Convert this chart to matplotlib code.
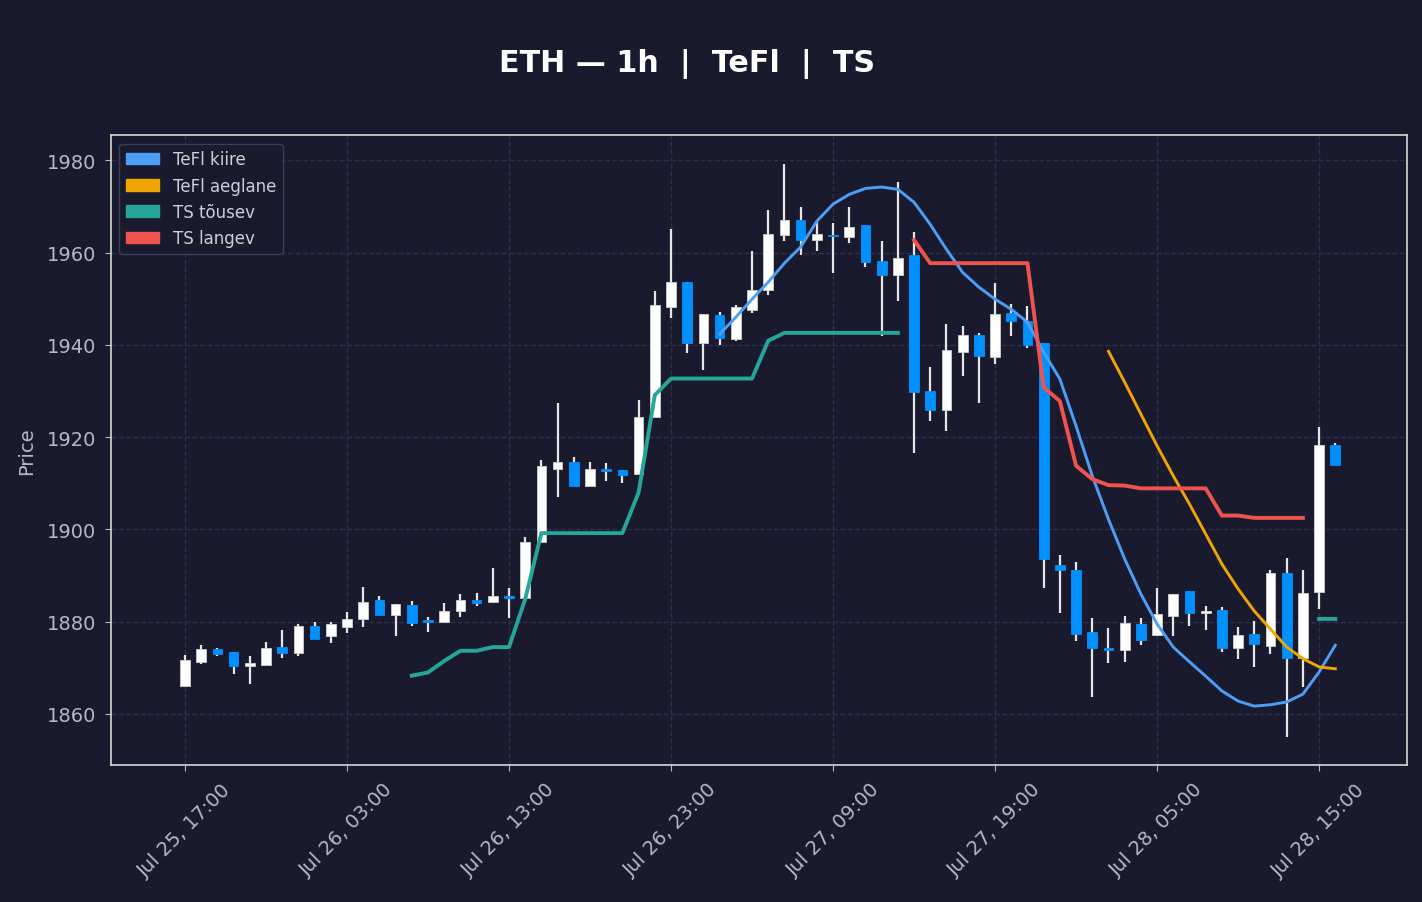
import numpy as np
import pandas as pd
import matplotlib
matplotlib.use("Agg")
import matplotlib.pyplot as plt
import matplotlib.dates as mdates
from matplotlib.patches import Patch

# hourly candles, Jul 25 17:00 -> Jul 28 16:00
times = pd.date_range("2023-07-25 17:00", periods=72, freq="h")

opens = [1866.1, 1871.3, 1874.1, 1873.4, 1870.3, 1870.7, 1874.5, 1873.3, 1879.1, 1876.8,
         1878.9, 1880.6, 1884.6, 1881.5, 1883.6, 1880.3, 1879.9, 1882.4, 1884.6, 1884.2,
         1885.6, 1885.2, 1897.2, 1913.2, 1914.7, 1909.5, 1913.2, 1912.9, 1912.1, 1924.3,
         1948.3, 1953.7, 1940.3, 1946.4, 1941.2, 1947.6, 1951.8, 1963.9, 1967.0, 1962.7,
         1963.9, 1963.4, 1965.9, 1958.1, 1955.2, 1959.4, 1930.1, 1925.8, 1938.5, 1942.1,
         1937.4, 1946.9, 1945.1, 1940.5, 1892.3, 1891.1, 1877.7, 1874.3, 1873.9, 1879.6,
         1877.1, 1881.3, 1886.6, 1881.8, 1882.5, 1874.4, 1877.3, 1874.8, 1890.5, 1872.2,
         1886.5, 1918.3]
highs = [1872.8, 1874.9, 1874.3, 1873.4, 1872.6, 1875.5, 1878.2, 1879.4, 1880.0, 1880.0,
         1882.1, 1887.5, 1885.6, 1883.8, 1884.5, 1881.0, 1884.1, 1886.0, 1886.3, 1891.6,
         1887.3, 1898.3, 1915.0, 1927.4, 1915.7, 1914.6, 1914.4, 1912.9, 1928.0, 1951.6,
         1965.1, 1953.7, 1946.6, 1947.2, 1948.6, 1960.4, 1969.2, 1979.1, 1969.8, 1966.9,
         1966.4, 1969.8, 1965.9, 1962.5, 1975.2, 1964.4, 1935.1, 1944.5, 1944.0, 1942.6,
         1953.4, 1948.8, 1948.4, 1940.5, 1894.4, 1892.9, 1880.8, 1878.6, 1881.2, 1880.8,
         1887.3, 1886.0, 1886.6, 1883.3, 1883.2, 1878.9, 1880.2, 1891.2, 1893.8, 1891.2,
         1922.2, 1918.7]
lows = [1866.0, 1870.9, 1872.6, 1868.6, 1866.5, 1870.7, 1872.1, 1872.6, 1876.3, 1875.4,
        1877.6, 1878.9, 1881.5, 1877.0, 1879.1, 1877.8, 1879.9, 1881.1, 1883.3, 1884.2,
        1880.8, 1885.2, 1897.2, 1907.1, 1909.5, 1909.5, 1910.5, 1910.0, 1912.1, 1924.3,
        1945.9, 1938.3, 1934.6, 1940.0, 1940.9, 1947.0, 1950.8, 1962.5, 1959.5, 1960.4,
        1955.5, 1962.0, 1956.9, 1941.9, 1949.5, 1916.6, 1923.5, 1921.4, 1933.3, 1927.4,
        1935.8, 1942.0, 1939.3, 1887.4, 1881.8, 1875.9, 1863.6, 1871.0, 1871.3, 1875.0,
        1876.8, 1877.0, 1879.1, 1878.3, 1873.5, 1871.9, 1870.2, 1873.0, 1855.1, 1865.9,
        1882.8, 1914.0]
closes = [1871.7, 1874.1, 1872.9, 1870.3, 1871.0, 1874.2, 1873.3, 1879.1, 1876.3, 1879.5,
          1880.5, 1884.2, 1881.5, 1883.8, 1879.7, 1879.9, 1882.3, 1884.6, 1884.0, 1885.6,
          1885.2, 1897.2, 1913.7, 1914.7, 1909.5, 1913.2, 1912.6, 1911.9, 1924.3, 1948.6,
          1953.7, 1940.3, 1946.6, 1941.4, 1948.1, 1951.8, 1964.1, 1967.0, 1962.8, 1964.0,
          1963.5, 1965.5, 1958.0, 1955.2, 1958.9, 1929.8, 1925.8, 1938.8, 1942.1, 1937.5,
          1946.6, 1945.1, 1940.0, 1893.5, 1891.1, 1877.3, 1874.2, 1873.9, 1879.7, 1876.0,
          1881.7, 1886.0, 1881.8, 1882.4, 1874.4, 1877.1, 1875.2, 1890.5, 1872.2, 1886.2,
          1918.3, 1914.0]

nan = np.nan
tefl_fast = [nan] * 33 + [
    1942.3, 1946.0, 1949.9, 1953.6, 1957.7, 1961.2, 1966.8, 1970.5, 1972.6, 1973.9,
    1974.2, 1973.7, 1970.9, 1966.1, 1960.7, 1955.7, 1952.5, 1949.9, 1947.7, 1944.9,
    1938.4, 1932.6, 1922.4, 1911.6, 1902.2, 1893.6, 1886.0, 1879.5, 1874.5, 1871.3,
    1868.2, 1865.0, 1862.8, 1861.7, 1862.0, 1862.6, 1864.3, 1869.1, 1874.9]
tefl_slow = [nan] * 57 + [
    1938.6, 1931.9, 1925.0, 1918.1, 1911.6, 1905.5, 1899.0, 1892.5, 1887.1, 1882.3,
    1878.4, 1874.5, 1872.0, 1870.2, 1869.8]
ts_up = [nan] * 14 + [
    1868.3, 1869.0, 1871.5, 1873.7, 1873.7, 1874.5, 1874.5, 1884.9, 1899.2, 1899.2,
    1899.2, 1899.2, 1899.2, 1899.2, 1908.0, 1929.1, 1932.7, 1932.7, 1932.7, 1932.7,
    1932.7, 1932.7, 1940.9, 1942.6, 1942.6, 1942.6, 1942.6, 1942.6, 1942.6, 1942.6,
    1942.6] + [nan] * 25 + [1880.6, 1880.6]
ts_down = [nan] * 45 + [
    1962.7, 1957.7, 1957.7, 1957.7, 1957.7, 1957.7, 1957.7, 1957.7, 1930.8, 1927.8,
    1913.8, 1910.9, 1909.6, 1909.5, 1908.9, 1908.9, 1908.9, 1908.9, 1908.9, 1903.0,
    1903.0, 1902.5, 1902.5, 1902.5, 1902.5] + [nan, nan]

BG = "#1a1a2e"
UP = "#ffffff"
DOWN = "#0090ff"
WICK = "#e6e6e6"
TXT = "#b8b8c4"

fig = plt.figure(figsize=(14.22, 9.03), dpi=100, facecolor=BG)
ax = fig.add_axes([0.078, 0.152, 0.9115, 0.697], facecolor=BG)

x = mdates.date2num(times)
w = 0.6 / 24
for xi, o, h, l, c in zip(x, opens, highs, lows, closes):
    col = UP if c >= o else DOWN
    ax.vlines(xi, l, h, color=WICK, lw=1.6, zorder=2)
    ax.bar(xi, max(abs(c - o), 0.25), bottom=min(o, c), width=w, color=col,
           edgecolor="#d0d0d0" if c >= o else DOWN, linewidth=0.6, zorder=3)

ax.plot(x, tefl_fast, color="#4d9ef6", lw=2.1, zorder=4)
ax.plot(x, tefl_slow, color="#f0a500", lw=2.1, zorder=4)
ax.plot(x, ts_up, color="#26a69a", lw=2.8, zorder=4)
ax.plot(x, ts_down, color="#ef5350", lw=2.8, zorder=4)

hour = 1 / 24
ax.set_xlim(x[0] - 4.57 * hour, x[0] + 75.43 * hour)
ax.set_ylim(1849.0, 1985.4)
ax.set_xticks(x[::10])
ax.xaxis.set_major_formatter(mdates.DateFormatter("%b %d, %H:%M"))
plt.setp(ax.get_xticklabels(), rotation=45)
ax.set_yticks([1860, 1880, 1900, 1920, 1940, 1960, 1980])

ax.grid(True, color="#2e2f4d", linestyle="--", linewidth=1.0)
ax.set_axisbelow(True)
for s in ax.spines.values():
    s.set_color("#d8d8d8")
    s.set_linewidth(1.2)
ax.tick_params(colors=TXT, labelsize=14, length=4.5, pad=6)
ax.set_ylabel("Price", color=TXT, fontsize=14, labelpad=8)

fig.text(0.4835, 0.920, "ETH — 1h  |  TeFl  |  TS", color="white", fontsize=21.7,
         fontweight="bold", ha="center", va="baseline")

handles = [Patch(color="#4d9ef6", label="TeFl kiire"),
           Patch(color="#f0a500", label="TeFl aeglane"),
           Patch(color="#26a69a", label="TS tõusev"),
           Patch(color="#ef5350", label="TS langev")]
leg = ax.legend(handles=handles, loc="upper left", fontsize=12, facecolor=BG,
                edgecolor="#3c3d5c", framealpha=1.0, labelcolor="#cfcfd8")

fig.savefig("out.png", dpi=100, facecolor=BG)
